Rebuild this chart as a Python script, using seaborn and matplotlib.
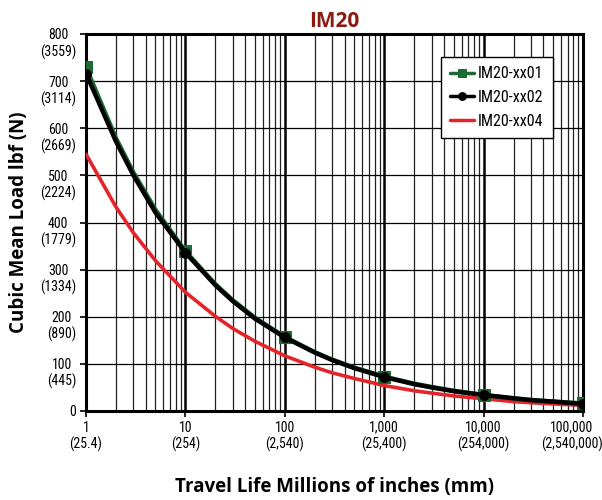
import numpy as np
import pandas as pd
import matplotlib
matplotlib.use("Agg")
import matplotlib.pyplot as plt
import matplotlib.transforms as mtransforms
from matplotlib.ticker import FixedLocator, NullFormatter, LogLocator
from matplotlib import font_manager
import seaborn as sns

# ---- data ----
travel = [1, 2, 3, 5, 10, 20, 30, 50, 100, 200, 300, 500, 1000, 2000, 3000, 5000,
          10000, 20000, 30000, 50000, 100000]
load_xx01 = [729, 579, 506, 427, 339, 269, 235, 198, 157, 125, 109, 92, 73, 58, 51, 43,
             34, 27, 23.5, 20, 16]
load_xx02 = [716, 572, 500, 421, 336, 267, 233, 196, 156, 124, 108, 91, 72, 57, 50, 42,
             34, 27, 23, 20, 15]
load_xx04 = [545, 433, 378, 319, 252, 201, 175, 148, 117, 93, 81, 69, 54, 43, 38, 32,
             26, 20, 17.5, 15, 12]
series_names = ["IM20-xx01", "IM20-xx02", "IM20-xx04"]
x_ticks = [1, 10, 100, 1000, 10000, 100000]
x_tick_labels = ["1\n(25.4)", "10\n(254)", "100\n(2,540)", "1,000\n(25,400)",
                 "10,000\n(254,000)", "100,000\n(2,540,000)"]
y_ticks = [0, 100, 200, 300, 400, 500, 600, 700, 800]
y_tick_labels = ["0", "100\n(445)", "200\n(890)", "300\n(1334)", "400\n(1779)",
                 "500\n(2224)", "600\n(2669)", "700\n(3114)", "800\n(3559)"]
title = "IM20"
x_label = "Travel Life Millions of inches (mm)"
y_label = "Cubic Mean Load lbf (N)"

df = pd.DataFrame({
    "travel": travel * 3,
    "load": load_xx01 + load_xx02 + load_xx04,
    "series": [series_names[0]] * len(travel) + [series_names[1]] * len(travel)
              + [series_names[2]] * len(travel),
})

sns.set_theme(style="white")
names = {f.name for f in font_manager.fontManager.ttflist}
narrow = None
for cand in ["Liberation Sans Narrow", "DejaVu Sans Condensed", "Roboto Condensed",
             "Open Sans Condensed"]:
    if cand in names:
        narrow = cand
        break
tick_family = [narrow, "DejaVu Sans"] if narrow else ["DejaVu Sans"]
plt.rcParams["font.family"] = tick_family
plt.rcParams["text.color"] = "black"
plt.rcParams["axes.labelcolor"] = "black"
plt.rcParams["xtick.color"] = "black"
plt.rcParams["ytick.color"] = "black"
tick_fs = 10 if narrow else 8.5

fig = plt.figure(figsize=(6.02, 5.0), dpi=100)
ax = fig.add_axes([0.1429, 0.178, 0.8255, 0.754])

green = "#1d6a33"
black = "#000000"
red = "#e3252b"
decade_idx = [travel.index(v) for v in x_ticks]

sns.lineplot(data=df[df.series == series_names[0]], x="travel", y="load", ax=ax,
             color=green, lw=3.2, marker="s", markersize=8, markevery=decade_idx,
             markeredgecolor=green, label=series_names[0], zorder=4)
sns.lineplot(data=df[df.series == series_names[1]], x="travel", y="load", ax=ax,
             color=black, lw=3.2, marker="o", markersize=7, markevery=decade_idx,
             markeredgecolor=black, label=series_names[1], zorder=5)
sns.lineplot(data=df[df.series == series_names[2]], x="travel", y="load", ax=ax,
             color=red, lw=2.6, label=series_names[2], zorder=3)

ax.set_xscale("log")
ax.set_xlim(1, 100000)
ax.set_ylim(0, 800)

ax.xaxis.set_major_locator(FixedLocator(x_ticks))
ax.xaxis.set_minor_locator(LogLocator(base=10, subs=range(2, 10)))
ax.xaxis.set_minor_formatter(NullFormatter())
ax.set_xticks(x_ticks)
ax.set_xticklabels(x_tick_labels, fontsize=tick_fs, linespacing=1.15,
                   stretch="condensed")
ax.set_yticks(y_ticks)
ax.set_yticklabels(y_tick_labels, fontsize=tick_fs, linespacing=1.15,
                   stretch="condensed")
ax.grid(True, which="major", axis="x", color="black", lw=1.8)
ax.grid(True, which="minor", axis="x", color="#222222", lw=0.9)
ax.grid(True, which="major", axis="y", color="black", lw=0.9)
ax.tick_params(axis="both", which="major", length=4, width=1.2, color="black",
               direction="out", pad=3, bottom=True, left=True)
ax.tick_params(axis="x", which="minor", length=0)

offset = mtransforms.ScaledTranslation(0, 4.0 / 72, fig.dpi_scale_trans)
for lab in ax.get_yticklabels():
    lab.set_va("top")
    lab.set_ha("right")
    lab.set_multialignment("center")
    lab.set_transform(lab.get_transform() + offset)
xlabs = ax.get_xticklabels()
for lab in xlabs:
    lab.set_multialignment("center")
shift_left = mtransforms.ScaledTranslation(-11 / 100, 0, fig.dpi_scale_trans)
xlabs[-1].set_transform(xlabs[-1].get_transform() + shift_left)

for s in ax.spines.values():
    s.set_visible(True)
    s.set_color("black")
    s.set_linewidth(2.2)

bold_family = ["Open Sans", "DejaVu Sans"]
ax.set_title(title, color="#8b1a10", fontsize=15, fontweight="bold",
             family=bold_family, pad=5)
ax.set_xlabel(x_label, fontsize=13.5, fontweight="bold", family=bold_family,
              labelpad=18)
ax.set_ylabel(y_label, fontsize=13.5, fontweight="bold", family=bold_family,
              labelpad=8)

leg = ax.legend(loc="upper right", bbox_to_anchor=(0.94, 0.94), frameon=True,
                fancybox=False, framealpha=1, edgecolor="black",
                prop={"family": tick_family, "size": 11.5 if narrow else 9.2},
                handlelength=1.5, handletextpad=0.25, borderpad=0.6,
                labelspacing=0.55, borderaxespad=0, markerscale=0.8)
leg.get_frame().set_linewidth(1.0)
for h in leg.get_lines():
    h.set_linewidth(2.5)

fig.savefig("out.png", dpi=100)
